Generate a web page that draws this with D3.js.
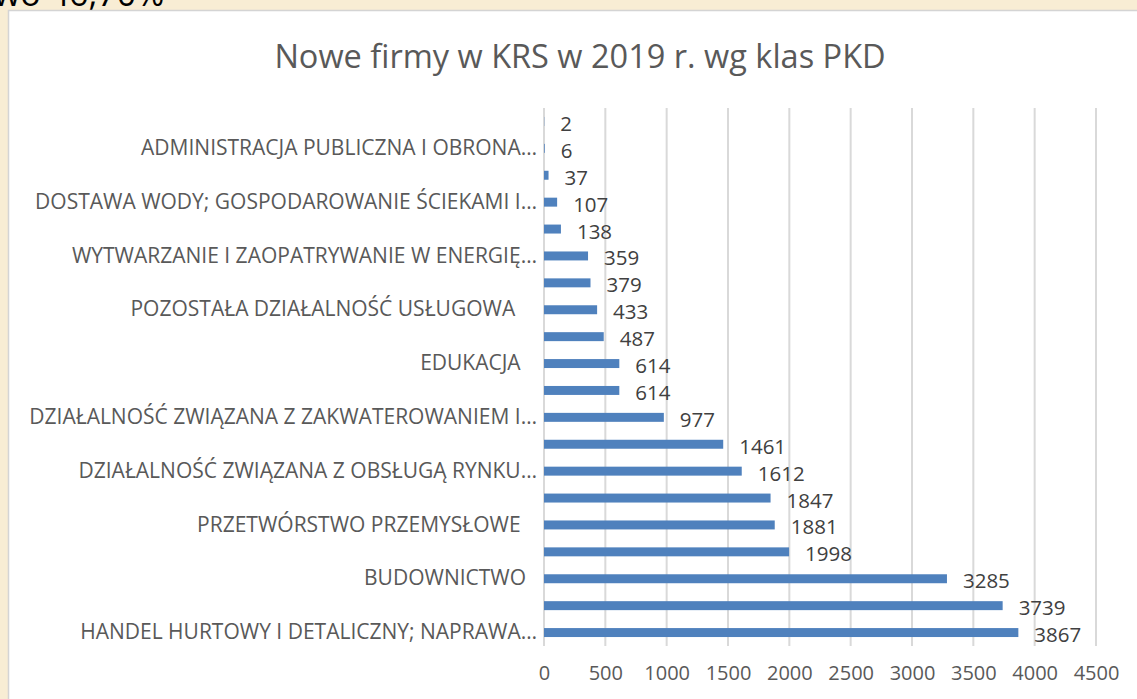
<!DOCTYPE html>
<html><head><meta charset="utf-8">
<script src="https://cdn.jsdelivr.net/npm/d3@7"></script>
<style>
html,body{margin:0;padding:0;background:#f8edd4;overflow:hidden;}
svg{display:block;}
</style></head><body>
<svg id="c" width="1137" height="699"></svg>
<script>
const categories = [
  "GOSPODARSTWA DOMOWE ZATRUDNIAJĄCE PRACOWNIKÓW",
  "ADMINISTRACJA PUBLICZNA I OBRONA…",
  "GÓRNICTWO I WYDOBYWANIE",
  "DOSTAWA WODY; GOSPODAROWANIE ŚCIEKAMI I…",
  "ROLNICTWO, LEŚNICTWO, ŁOWIECTWO I RYBACTWO",
  "WYTWARZANIE I ZAOPATRYWANIE W ENERGIĘ…",
  "DZIAŁALNOŚĆ FINANSOWA I UBEZPIECZENIOWA",
  "POZOSTAŁA DZIAŁALNOŚĆ USŁUGOWA    ",
  "DZIAŁALNOŚĆ ZWIĄZANA Z KULTURĄ, ROZRYWKĄ I REKREACJĄ",
  "EDUKACJA   ",
  "OPIEKA ZDROWOTNA I POMOC SPOŁECZNA",
  "DZIAŁALNOŚĆ ZWIĄZANA Z ZAKWATEROWANIEM I…",
  "DZIAŁALNOŚĆ W ZAKRESIE USŁUG ADMINISTROWANIA",
  "DZIAŁALNOŚĆ ZWIĄZANA Z OBSŁUGĄ RYNKU…",
  "TRANSPORT I GOSPODARKA MAGAZYNOWA",
  "PRZETWÓRSTWO PRZEMYSŁOWE   ",
  "INFORMACJA I KOMUNIKACJA",
  "BUDOWNICTWO  ",
  "DZIAŁALNOŚĆ PROFESJONALNA, NAUKOWA I TECHNICZNA",
  "HANDEL HURTOWY I DETALICZNY; NAPRAWA…"
];
const values = [2, 6, 37, 107, 138, 359, 379, 433, 487, 614, 614, 977, 1461, 1612, 1847, 1881, 1998, 3285, 3739, 3867];
const shownCategories = [
  "ADMINISTRACJA PUBLICZNA I OBRONA…",
  "DOSTAWA WODY; GOSPODAROWANIE ŚCIEKAMI I…",
  "WYTWARZANIE I ZAOPATRYWANIE W ENERGIĘ…",
  "POZOSTAŁA DZIAŁALNOŚĆ USŁUGOWA    ",
  "EDUKACJA   ",
  "DZIAŁALNOŚĆ ZWIĄZANA Z ZAKWATEROWANIEM I…",
  "DZIAŁALNOŚĆ ZWIĄZANA Z OBSŁUGĄ RYNKU…",
  "PRZETWÓRSTWO PRZEMYSŁOWE   ",
  "BUDOWNICTWO  ",
  "HANDEL HURTOWY I DETALICZNY; NAPRAWA…"
];
const xTicks = [0, 500, 1000, 1500, 2000, 2500, 3000, 3500, 4000, 4500];
const title = "Nowe firmy w KRS w 2019 r. wg klas PKD";
const corner = "wo 46,70%";

const FONT = "'Open Sans', sans-serif";
const svg = d3.select("#c");

// clipped text from above the chart
svg.append("text").attr("x", -6).attr("y", 6).attr("font-family", FONT)
  .attr("font-size", 34).attr("fill", "#000").text(corner);

// chart frame
svg.append("rect").attr("x", 8.5).attr("y", 10.5).attr("width", 1140).attr("height", 700)
  .attr("fill", "#fff").attr("stroke", "#d4d4d4").attr("stroke-width", 1.5);

svg.append("text").attr("x", 580).attr("y", 55).attr("text-anchor", "middle")
  .attr("dominant-baseline", "central").attr("font-family", FONT).attr("font-size", 32.5)
  .attr("fill", "#595959").text(title);

const x = d3.scaleLinear().domain([0, 4500]).range([544, 1096]);
const y = d3.scaleBand().domain(categories).range([108, 646]).paddingInner(2/3).paddingOuter(1/3);

// gridlines
svg.append("g").selectAll("line").data(xTicks).join("line")
  .attr("x1", d => x(d)).attr("x2", d => x(d)).attr("y1", 108).attr("y2", 646)
  .attr("stroke", "#d9d9d9").attr("stroke-width", 2);

// bars
svg.append("g").selectAll("rect").data(values).join("rect")
  .attr("x", x(0)).attr("y", (d, i) => y(categories[i]))
  .attr("width", d => x(d) - x(0)).attr("height", y.bandwidth())
  .attr("fill", "#4f81bd");

// data labels
svg.append("g").selectAll("text").data(values).join("text")
  .attr("x", d => x(d) + 16).attr("y", (d, i) => y(categories[i]) + y.bandwidth()/2 + 1.5)
  .attr("dominant-baseline", "central").attr("font-family", FONT).attr("font-size", 20.5)
  .attr("fill", "#404040").text(d => d);

// y axis
const yAxis = d3.axisLeft(y).tickValues(shownCategories).tickSize(0).tickPadding(7);
const gy = svg.append("g").attr("transform", `translate(${x(0)},0)`).call(yAxis);
gy.select(".domain").remove();
gy.selectAll("text").attr("font-family", FONT).attr("font-size", 21).attr("fill", "#595959")
  .attr("xml:space", "preserve").style("white-space", "pre");

// x axis
const xAxis = d3.axisBottom(x).tickValues(xTicks).tickFormat(d3.format("d")).tickSize(0).tickPadding(20);
const gx = svg.append("g").attr("transform", `translate(0,${646})`).call(xAxis);
gx.select(".domain").remove();
gx.selectAll("text").attr("font-family", FONT).attr("font-size", 20).attr("fill", "#595959");
</script>
</body></html>
